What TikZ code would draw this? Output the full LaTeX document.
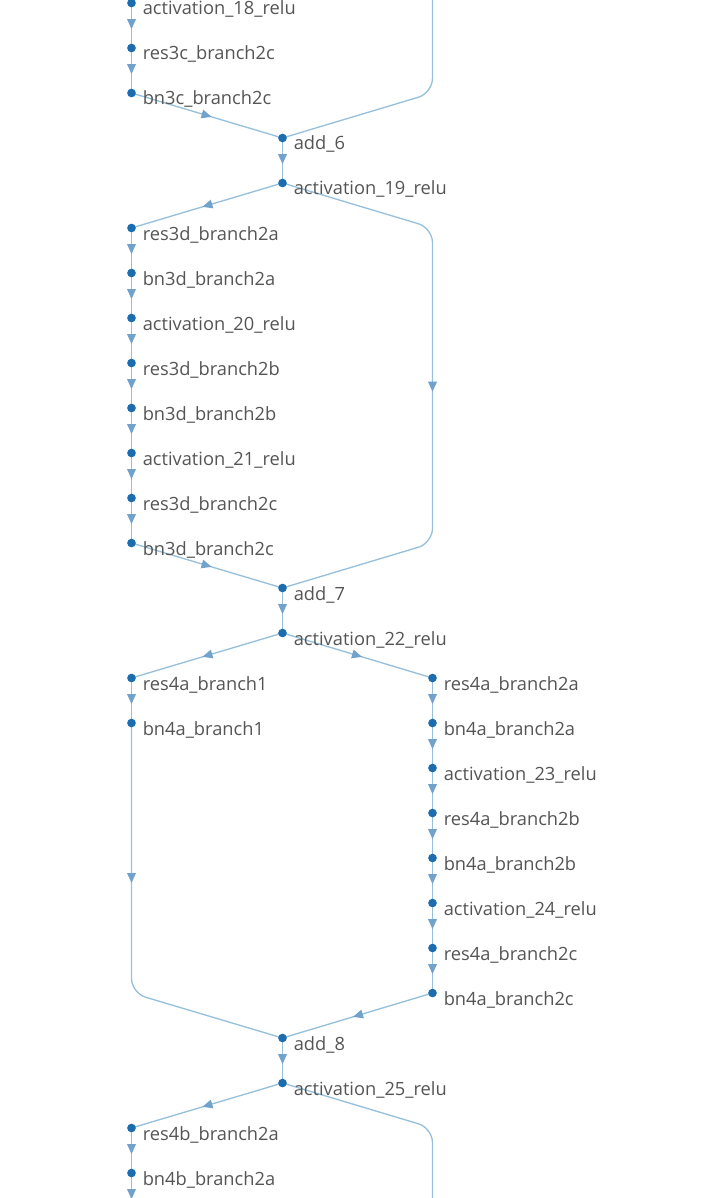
\documentclass[tikz,border=0pt]{standalone}
\usepackage{fontspec}
\setmainfont{Open Sans}
\usetikzlibrary{arrows.meta,decorations.markings,backgrounds}
\definecolor{dotc}{RGB}{28,108,176}
\definecolor{linec}{RGB}{150,192,220}
\definecolor{arrc}{RGB}{112,162,204}
\definecolor{txtc}{RGB}{85,85,85}
\tikzset{
  dotn/.style={circle, fill=dotc, inner sep=0pt, minimum size=6.5pt},
  lbl/.style={anchor=base west, text=txtc, inner sep=0pt, font=\fontsize{13.7pt}{16pt}\selectfont},
  conn/.style={draw=linec, line width=1pt, rounded corners=11pt, postaction=decorate,
    decoration={markings, mark=at position #1 with {\arrow[arrc]{Triangle[width=6.5pt,length=7.5pt]}}}},
}
\begin{document}
\begin{tikzpicture}[x=0.75pt,y=-0.75pt]
\useasboundingbox (0,0) rectangle (725,1198);
\def\xl{131.5}\def\xm{282.5}\def\xr{432.5}
\foreach \n/\x/\y/\t in {
  a18/\xl/3/activation\_18\_relu,
  r3c2c/\xl/48/res3c\_branch2c,
  b3c2c/\xl/93/bn3c\_branch2c,
  add6/\xm/138/add\_6,
  a19/\xm/183/activation\_19\_relu,
  r3d2a/\xl/228/res3d\_branch2a,
  b3d2a/\xl/273/bn3d\_branch2a,
  a20/\xl/318/activation\_20\_relu,
  r3d2b/\xl/363/res3d\_branch2b,
  b3d2b/\xl/408/bn3d\_branch2b,
  a21/\xl/453/activation\_21\_relu,
  r3d2c/\xl/498/res3d\_branch2c,
  b3d2c/\xl/543/bn3d\_branch2c,
  add7/\xm/588/add\_7,
  a22/\xm/633/activation\_22\_relu,
  r4a1/\xl/678/res4a\_branch1,
  b4a1/\xl/723/bn4a\_branch1,
  r4a2a/\xr/678/res4a\_branch2a,
  b4a2a/\xr/723/bn4a\_branch2a,
  a23/\xr/768/activation\_23\_relu,
  r4a2b/\xr/813/res4a\_branch2b,
  b4a2b/\xr/858/bn4a\_branch2b,
  a24/\xr/903/activation\_24\_relu,
  r4a2c/\xr/948/res4a\_branch2c,
  b4a2c/\xr/993/bn4a\_branch2c,
  add8/\xm/1038/add\_8,
  a25/\xm/1083/activation\_25\_relu,
  r4b2a/\xl/1128/res4b\_branch2a,
  b4b2a/\xl/1173/bn4b\_branch2a}{
  \node[dotn] (\n) at (\x,\y) {};
  \node[lbl] (\n-l) at (\x+11,\y+12) {\t};
}
\coordinate (topL) at (\xl,-42);
\coordinate (topR) at (\xr,-300);
\coordinate (botL) at (\xl,1218);
\coordinate (botR) at (\xr,1260);
\begin{scope}[on background layer]
  \foreach \a/\b in {topL/a18, a18/r3c2c, r3c2c/b3c2c, add6/a19,
     r3d2a/b3d2a, b3d2a/a20, a20/r3d2b, r3d2b/b3d2b, b3d2b/a21, a21/r3d2c, r3d2c/b3d2c,
     add7/a22, r4a1/b4a1,
     r4a2a/b4a2a, b4a2a/a23, a23/r4a2b, r4a2b/b4a2b, b4a2b/a24, a24/r4a2c, r4a2c/b4a2c,
     add8/a25, r4b2a/b4b2a, b4b2a/botL}{
    \draw[conn=0.58] (\a.center) -- (\b.center);
  }
  \foreach \a/\b in {b3c2c/add6, a19/r3d2a, b3d2c/add7, a22/r4a1, a22/r4a2a, b4a2c/add8, a25/r4b2a}{
    \draw[conn=0.53] (\a.center) -- (\b.center);
  }
  \draw[conn=2pt] (topR) -- (\xr,93) -- (add6.center);
  \draw[conn=0.51] (a19.center) -- (\xr,228) -- (\xr,543) -- (add7.center);
  \draw[conn=120pt] (b4a1.center) -- (\xl,993) -- (add8.center);
  \draw[conn=0.99] (a25.center) -- (\xr,1128) -- (botR);
\end{scope}
\end{tikzpicture}
\end{document}
